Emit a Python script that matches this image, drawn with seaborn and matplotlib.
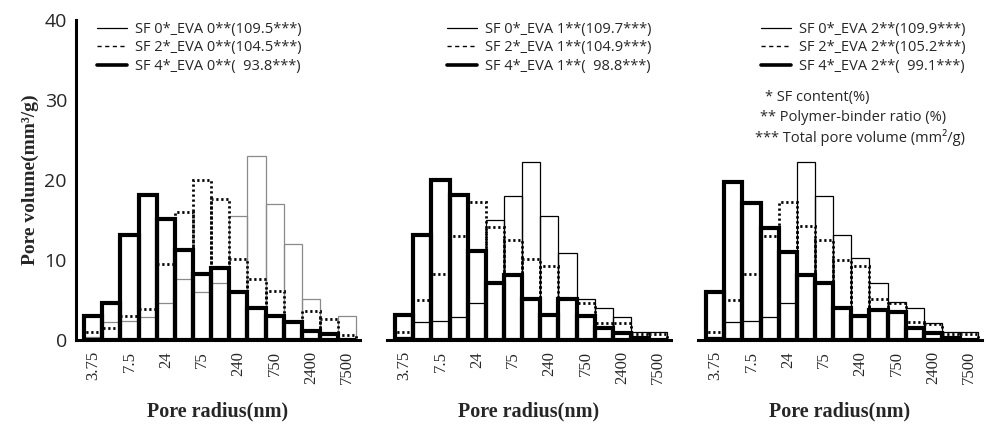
import numpy as np
import matplotlib
matplotlib.use("Agg")
import matplotlib.pyplot as plt
from matplotlib.lines import Line2D
import seaborn as sns

# pore radius bins (15 bins, every other one labelled)
bins = np.arange(15)
tick_labels = ["3.75", "7.5", "24", "75", "240", "750", "2400", "7500"]

# panel 1: EVA 0
p1_sf0 = [0.4, 2.2, 2.4, 2.9, 4.6, 7.6, 6.0, 7.1, 15.5, 23.0, 17.0, 12.0, 5.1, 0.8, 3.0]
p1_sf2 = [1.0, 1.5, 3.0, 3.9, 9.5, 16.0, 20.0, 17.6, 10.1, 7.6, 6.1, 2.2, 3.6, 2.6, 0.6]
p1_sf4 = [3.0, 4.6, 13.1, 18.1, 15.1, 11.2, 8.2, 9.0, 6.0, 4.0, 3.0, 2.2, 1.1, 0.8, 0.0]
# panel 2: EVA 1
p2_sf0 = [0.4, 2.2, 2.4, 2.9, 4.6, 15.0, 18.0, 22.2, 15.5, 10.9, 5.1, 4.0, 2.9, 1.0, 1.0]
p2_sf2 = [1.0, 5.0, 8.3, 13.0, 17.2, 14.1, 12.5, 10.1, 9.2, 5.1, 4.6, 2.1, 2.1, 0.8, 0.75]
p2_sf4 = [3.1, 13.1, 20.0, 18.1, 11.1, 7.1, 8.1, 5.1, 3.1, 5.1, 3.0, 1.5, 0.9, 0.3, 0.0]
# panel 3: EVA 2
p3_sf0 = [0.4, 2.2, 2.4, 2.9, 4.6, 22.2, 18.0, 13.1, 10.2, 7.1, 4.8, 4.0, 2.1, 1.0, 1.0]
p3_sf2 = [1.0, 5.0, 8.3, 13.0, 17.2, 14.2, 12.5, 10.0, 9.2, 5.1, 4.6, 2.2, 2.0, 0.8, 0.75]
p3_sf4 = [6.0, 19.7, 17.1, 14.0, 11.0, 8.1, 7.1, 4.0, 3.0, 3.8, 3.5, 1.5, 0.9, 0.3, 0.0]

legend_labels = [
    ["SF 0*_EVA 0**(109.5***)", "SF 2*_EVA 0**(104.5***)", "SF 4*_EVA 0**(  93.8***)"],
    ["SF 0*_EVA 1**(109.7***)", "SF 2*_EVA 1**(104.9***)", "SF 4*_EVA 1**(  98.8***)"],
    ["SF 0*_EVA 2**(109.9***)", "SF 2*_EVA 2**(105.2***)", "SF 4*_EVA 2**(  99.1***)"],
]
notes = ["* SF content(%)", "** Polymer-binder ratio (%)", "*** Total pore volume (mm\u00b2/g)"]

sns.set_theme(style="white")
plt.rcParams["font.family"] = ["Open Sans", "DejaVu Sans"]

fig = plt.figure(figsize=(9.86, 4.26), dpi=100)
W, H = 986, 426
lefts = [76, 387, 698]
legend_x = [91, 441, 755]
panels = [(p1_sf0, p1_sf2, p1_sf4), (p2_sf0, p2_sf2, p2_sf4), (p3_sf0, p3_sf2, p3_sf4)]

for i, (sf0, sf2, sf4) in enumerate(panels):
    ax = fig.add_axes([lefts[i] / W, (H - 340) / H, 284 / W, 320 / H])
    thin_col = "#8a8a8a" if i == 0 else "black"
    sns.barplot(x=bins, y=sf0, ax=ax, fill=False, width=1, color=thin_col,
                linewidth=0.9, zorder=2)
    sns.barplot(x=bins, y=sf2, ax=ax, fill=False, width=1, color="black",
                linewidth=2.0, linestyle=(0, (0.8, 1.0)), zorder=3)
    sns.barplot(x=bins, y=sf4, ax=ax, fill=False, width=1, color="black",
                linewidth=3.0, zorder=4)
    ax.set_xlim(-0.95, 14.7)
    ax.set_ylim(0, 40)
    ax.set_xticks(bins[::2])
    ax.set_xticklabels(tick_labels, rotation=90, family="Liberation Serif", fontsize=12)
    ax.tick_params(axis="x", length=0, pad=8)
    ax.set_xlabel("Pore radius(nm)", family="Liberation Serif", fontweight="bold",
                  fontsize=14.5, labelpad=12)
    for s in ["top", "right"]:
        ax.spines[s].set_visible(False)
    ax.spines["bottom"].set_linewidth(2.2)
    ax.spines["bottom"].set_color("black")
    if i == 0:
        ax.set_yticks([0, 10, 20, 30, 40])
        ax.tick_params(axis="y", direction="inout", length=7, width=1.5, labelsize=14, pad=3)
        ax.spines["left"].set_linewidth(2.2)
        ax.spines["left"].set_color("black")
        ax.set_ylabel("Pore volume(mm\u00b3/g)", family="Liberation Serif",
                      fontweight="bold", fontsize=14, labelpad=4)
    else:
        ax.spines["left"].set_visible(False)
        ax.set_yticks([])
        ax.set_ylabel("")
    handles = [
        Line2D([], [], color="black", lw=0.9),
        Line2D([], [], color="black", lw=1.0, linestyle=(0, (3, 2.5))),
        Line2D([], [], color="black", lw=2.6),
    ]
    ax.legend(handles, legend_labels[i], loc="upper left", frameon=False,
              bbox_to_anchor=(legend_x[i] / W, 1 - 16 / H),
              bbox_transform=fig.transFigure, borderaxespad=0,
              fontsize=10.5, handlelength=2.1, handletextpad=0.5, labelspacing=0.25)

# footnotes in third panel
for k, (txt, x) in enumerate(zip(notes, [765, 760, 755])):
    fig.text(x / W, 1 - (98 + 19.5 * k) / H, txt, fontsize=10.5, va="center", ha="left")

fig.savefig("out.png", dpi=100)
